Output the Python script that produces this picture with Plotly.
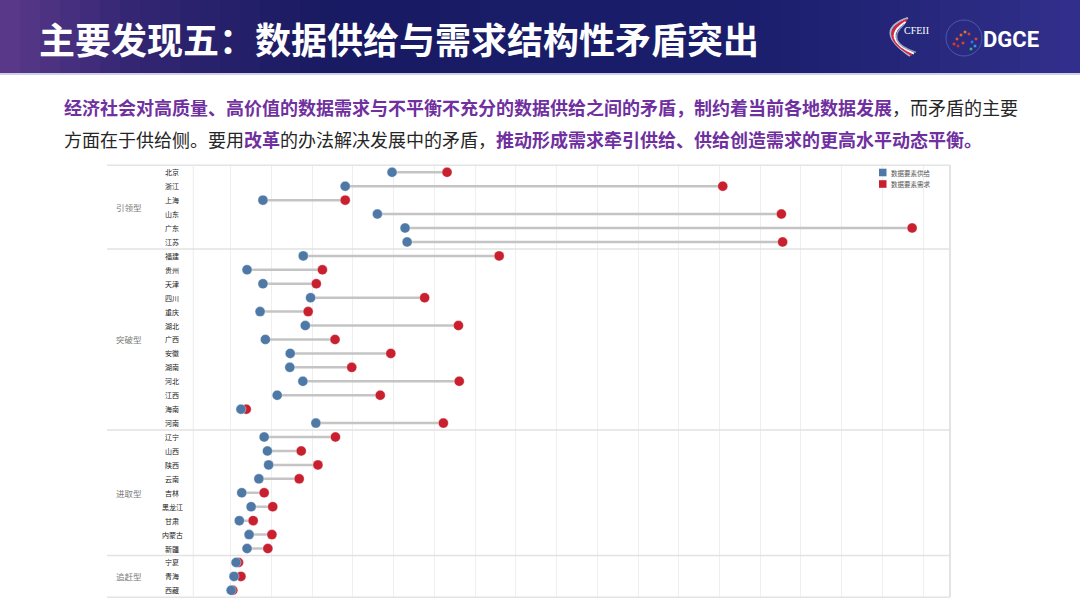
import plotly.graph_objects as go

# ---------------- data ----------------
provinces = ["北京", "浙江", "上海", "山东", "广东", "江苏",
             "福建", "贵州", "天津", "四川", "重庆", "湖北", "广西", "安徽", "湖南", "河北", "江西", "海南", "河南",
             "辽宁", "山西", "陕西", "云南", "吉林", "黑龙江", "甘肃", "内蒙古", "新疆",
             "宁夏", "青海", "西藏"]
groups = ["引领型"] * 6 + ["突破型"] * 13 + ["进取型"] * 9 + ["追赶型"] * 3
supply = [49.6, 38.1, 17.9, 46.0, 52.8, 53.3,
          27.8, 14.0, 17.9, 29.6, 17.2, 28.3, 18.5, 24.6, 24.5, 27.7, 21.4, 12.5, 30.9,
          18.2, 19.0, 19.3, 16.9, 12.7, 15.0, 12.1, 14.5, 14.0,
          11.3, 10.8, 10.1]
demand = [63.1, 130.8, 38.1, 145.2, 177.3, 145.5,
          75.9, 32.5, 31.0, 57.6, 29.0, 65.9, 35.6, 49.3, 39.7, 66.1, 46.7, 13.8, 62.2,
          35.7, 27.3, 31.4, 26.8, 18.2, 20.3, 15.5, 20.1, 19.1,
          11.9, 12.5, 10.5]
series_names = ["数据要素供给", "数据要素需求"]

title_text = "主要发现五：数据供给与需求结构性矛盾突出"
para1 = ("<span style='color:#7030A0'><b>经济社会对高质量、高价值的数据需求与不平衡不充分的数据供给之间的矛盾，制约着当前各地数据发展</b></span>"
         "，而矛盾的主要")
para2 = ("方面在于供给侧。要用<span style='color:#7030A0'><b>改革</b></span>的办法解决发展中的矛盾，"
         "<span style='color:#7030A0'><b>推动形成需求牵引供给、供给创造需求的更高水平动态平衡。</b></span>")

# ---------------- layout helpers ----------------
W, H = 1080, 607
BLUE = "#4E79A7"
RED = "#C8202F"
FONT = "Noto Sans CJK SC"


def px(x):
    return x / W


def py(y):
    return 1 - y / H


rows = list(range(len(provinces)))

fig = go.Figure()

# connectors
lx, ly = [], []
for i, (s, d) in enumerate(zip(supply, demand)):
    lx += [s, d, None]
    ly += [i, i, None]
fig.add_trace(go.Scatter(x=lx, y=ly, mode="lines", line=dict(color="#c4c4c4", width=2.5),
                         hoverinfo="skip", showlegend=False))
fig.add_trace(go.Scatter(x=demand, y=rows, mode="markers", name=series_names[1],
                         marker=dict(color=RED, size=10, line=dict(color="rgba(255,255,255,0.6)", width=0.6)),
                         showlegend=False))
fig.add_trace(go.Scatter(x=supply, y=rows, mode="markers", name=series_names[0],
                         marker=dict(color=BLUE, size=10, line=dict(color="rgba(255,255,255,0.6)", width=0.6)),
                         showlegend=False))

plot_left, plot_right = 193.3, 950
plot_top, plot_bottom = 165.3, 597.3

shapes = []
annotations = []

# header gradient
stops = [(0.0, (92, 58, 140)), (0.12, (52, 38, 115)), (0.3, (24, 26, 98)),
         (0.7, (26, 30, 108)), (1.0, (50, 48, 140))]


def grad(t):
    for (t0, c0), (t1, c1) in zip(stops[:-1], stops[1:]):
        if t0 <= t <= t1:
            f = (t - t0) / (t1 - t0)
            return "rgb(%d,%d,%d)" % tuple(round(a + (b - a) * f) for a, b in zip(c0, c1))
    return "rgb(%d,%d,%d)" % stops[-1][1]


n = 54
for k in range(n):
    x0 = k * W / n
    x1 = (k + 1) * W / n + 1
    shapes.append(dict(type="rect", xref="paper", yref="paper", x0=px(x0), x1=px(min(x1, W)),
                       y0=py(73), y1=1, fillcolor=grad((k + 0.5) / n), line=dict(width=0), layer="below"))
shapes.append(dict(type="line", xref="paper", yref="paper", x0=0, x1=1, y0=py(74), y1=py(74),
                   line=dict(color="#cfd0e8", width=2)))

# title
annotations.append(dict(text="<b>" + title_text + "</b>", x=px(37), y=py(38), xref="paper", yref="paper",
                        xanchor="left", yanchor="middle", showarrow=False,
                        font=dict(family=FONT, size=36, color="white")))

# logos (decorative)
for off, col, w in [(0, "#b0b4cc", 2), (4, "#d6263a", 2.5), (8, "#ffffff", 2), (12, "#9aa0c0", 1.5)]:
    shapes.append(dict(type="path", xref="paper", yref="paper",
                       path="M %f,%f Q %f,%f %f,%f" % (px(908 - off * 0.3), py(18 + off * 0.5),
                                                       px(872 + off), py(30 + off),
                                                       px(910 + off * 0.5), py(56 - off * 0.3)),
                       line=dict(color=col, width=w)))
annotations.append(dict(text="CFEII", x=px(902), y=py(30), xref="paper", yref="paper", xanchor="left",
                        yanchor="middle", showarrow=False,
                        font=dict(family="Liberation Serif", size=10, color="white")))
shapes.append(dict(type="circle", xref="paper", yref="paper", x0=px(946), x1=px(982), y0=py(56), y1=py(20),
                   line=dict(color="#4a5aa8", width=1)))
for (cx, cy, c) in [(954, 44, "#e03a2a"), (957, 39, "#e8502a"), (961, 35, "#e8682a"), (965, 32, "#e87a2a"),
                    (969, 34, "#d84030"), (958, 46, "#c83030"), (963, 43, "#d04a2a"), (972, 42, "#3a7ad8"),
                    (975, 46, "#3a9ad8"), (971, 49, "#3ab870"), (976, 39, "#e04040")]:
    shapes.append(dict(type="rect", xref="paper", yref="paper", x0=px(cx - 1.3), x1=px(cx + 1.3),
                       y0=py(cy + 1.3), y1=py(cy - 1.3), fillcolor=c, line=dict(width=0)))
annotations.append(dict(text="<b>DGCE</b>", x=px(981), y=py(39), xref="paper", yref="paper", xanchor="left",
                        yanchor="middle", showarrow=False,
                        font=dict(family="Roboto", size=22, color="white")))

# paragraph
for txt, yy in [(para1, 107), (para2, 139)]:
    annotations.append(dict(text=txt, x=px(62), y=py(yy), xref="paper", yref="paper", xanchor="left",
                            yanchor="middle", showarrow=False, align="left",
                            font=dict(family=FONT, size=18, color="#262626")))

# chart frame lines
shapes.append(dict(type="line", xref="paper", yref="paper", x0=px(107), x1=px(plot_right),
                   y0=py(plot_top), y1=py(plot_top), line=dict(color="#e4e4e4", width=1.5)))
shapes.append(dict(type="line", xref="paper", yref="paper", x0=px(107), x1=px(plot_right),
                   y0=py(plot_bottom), y1=py(plot_bottom), line=dict(color="#e4e4e4", width=1.5)))
shapes.append(dict(type="line", xref="paper", yref="paper", x0=px(plot_left), x1=px(plot_left),
                   y0=py(plot_top), y1=py(plot_bottom), line=dict(color="#ececec", width=1)))
shapes.append(dict(type="line", xref="paper", yref="paper", x0=px(plot_right), x1=px(plot_right),
                   y0=py(plot_top), y1=py(plot_bottom), line=dict(color="#dadada", width=1.5)))

# group separators and labels
start = 0
for i in range(1, len(groups) + 1):
    if i == len(groups) or groups[i] != groups[start]:
        mid = (start + i - 1) / 2
        annotations.append(dict(text=groups[start], x=px(129), y=mid, xref="paper", yref="y",
                                xanchor="center", yanchor="middle", showarrow=False,
                                font=dict(family=FONT, size=8.5, color="#7a7a7a")))
        if i < len(groups):
            shapes.append(dict(type="line", xref="paper", yref="y", x0=px(107), x1=px(plot_right),
                               y0=i - 0.5, y1=i - 0.5, line=dict(color="#e2e2e2", width=1.5)))
        start = i

# province labels
for i, p in enumerate(provinces):
    annotations.append(dict(text=p, x=px(172), y=i, xref="paper", yref="y", xanchor="center",
                            yanchor="middle", showarrow=False,
                            font=dict(family=FONT, size=7, color="#222222")))

# manual legend
for k, (name, col) in enumerate(zip(series_names, [BLUE, RED])):
    yc = 172.5 + k * 11.5
    shapes.append(dict(type="rect", xref="paper", yref="paper", x0=px(879), x1=px(886.5),
                       y0=py(yc + 3.8), y1=py(yc - 3.8), fillcolor=col, line=dict(width=0)))
    annotations.append(dict(text=name, x=px(888.5), y=py(yc), xref="paper", yref="paper", xanchor="left",
                            yanchor="middle", showarrow=False,
                            font=dict(family=FONT, size=6.5, color="#555555")))

fig.update_layout(
    width=W, height=H,
    margin=dict(l=0, r=0, t=0, b=0, pad=0),
    paper_bgcolor="white", plot_bgcolor="white",
    showlegend=False,
    xaxis=dict(domain=[px(plot_left), px(plot_right)], range=[0.8, 186.6], tick0=0, dtick=10,
               showgrid=True, gridcolor="#efefef", gridwidth=1, zeroline=False, showticklabels=False,
               ticks="", showline=False, fixedrange=True),
    yaxis=dict(domain=[py(plot_bottom), py(plot_top)], range=[len(provinces) - 0.5, -0.5],
               showgrid=False, zeroline=False, showticklabels=False, ticks="", showline=False,
               fixedrange=True),
    shapes=shapes,
    annotations=annotations,
)

fig.write_html("out.html")
